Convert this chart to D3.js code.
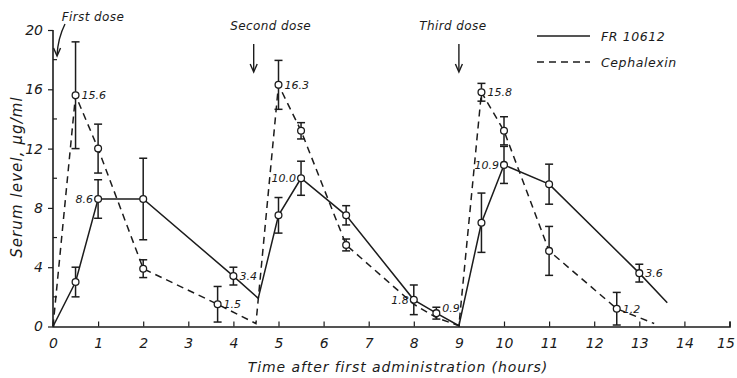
<!DOCTYPE html>
<html>
<head>
<meta charset="utf-8">
<script src="https://cdn.jsdelivr.net/npm/d3@7/dist/d3.min.js"></script>
<style>
  html, body { margin: 0; padding: 0; background: #fff; }
  svg { display: block; }
  text { font-family: "DejaVu Sans", sans-serif; font-style: italic; fill: #1a1a1a; }
</style>
</head>
<body>
<svg id="chart" width="737" height="378"></svg>
<script>
// Serum levels after three oral doses (hours after first administration)
const frTimes   = [0, 0.5, 1, 2, 4, 4.55, 5, 5.5, 6.5, 8, 8.5, 9, 9.5, 10, 11, 13, 13.62];
const frValues  = [0, 3.0, 8.6, 8.6, 3.4, 1.9, 7.5, 10.0, 7.5, 1.8, 0.9, 0.05, 7.0, 10.9, 9.6, 3.6, 1.6];
const frErrors  = [null, 1.0, 1.3, 2.75, 0.6, null, 1.2, 1.15, 0.65, 1.0, 0.4, null, 2.0, 1.25, 1.35, 0.6, null];

const cephTimes  = [0, 0.5, 1, 2, 3.65, 4.5, 5, 5.5, 6.5, 8, 8.5, 9, 9.5, 10, 11, 12.5, 13.33];
const cephValues = [0, 15.6, 12.0, 3.9, 1.5, 0.2, 16.3, 13.2, 5.5, 1.5, 0.6, 0.05, 15.8, 13.2, 5.1, 1.2, 0.2];
const cephErrors = [null, 3.6, 1.65, 0.6, 1.2, null, 1.65, 0.55, 0.4, null, null, null, 0.6, 0.95, 1.65, 1.1, null];

// Value labels: [time, value, text, side]
const frLabels   = [[1, 8.6, "8.6", "left"], [4, 3.4, "3.4", "right"], [5.5, 10.0, "10.0", "left"],
                    [8, 1.8, "1.8", "left"], [8.5, 0.9, "0.9", "above"], [10, 10.9, "10.9", "left"],
                    [13, 3.6, "3.6", "right"]];
const cephLabels = [[0.5, 15.6, "15.6", "right"], [3.65, 1.5, "1.5", "right"], [5, 16.3, "16.3", "right"],
                    [9.5, 15.8, "15.8", "right"], [12.5, 1.2, "1.2", "right"]];

const doseNames = ["First dose", "Second dose", "Third dose"];
const doseTimes = [0.09, 4.45, 9.0];

const xTicks = d3.range(0, 16, 1);
const yMajor = [0, 4, 8, 12, 16, 20];
const yMinor = [2, 6, 10, 14, 18];

const seriesNames = ["FR 10612", "Cephalexin"];

const svg = d3.select("#chart");
const ink = "#1c1c1c";

const x = d3.scaleLinear().domain([0, 15]).range([53, 729.5]);
const y = d3.scaleLinear().domain([0, 20]).range([326.5, 30]);

// X axis: ticks pointing inward
const xAxis = svg.append("g").attr("transform", `translate(0,${y(0)})`)
  .call(d3.axisBottom(x).tickValues(xTicks).tickSize(-5).tickPadding(12).tickFormat(d3.format("d")));
xAxis.select(".domain").attr("stroke", ink).attr("stroke-width", 1.6);
xAxis.selectAll(".tick line").attr("stroke", ink).attr("stroke-width", 1.2);
xAxis.selectAll(".tick text").attr("font-size", 14).attr("fill", ink)
  .style("font-family", "DejaVu Sans, sans-serif").style("font-style", "italic");
// keep the last label inside the page edge
xAxis.selectAll(".tick text").filter(d => d === 15).attr("dx", -4);

// Y axis: major ticks outward, minor ticks inward
const yAxis = svg.append("g").attr("transform", `translate(${x(0)},0)`)
  .call(d3.axisLeft(y).tickValues(yMajor).tickSize(5).tickPadding(5).tickFormat(d3.format("d")));
yAxis.select(".domain").attr("stroke", ink).attr("stroke-width", 1.6).attr("d", `M0,${y(0)}V${y(20)}`);
yAxis.selectAll(".tick line").attr("stroke", ink).attr("stroke-width", 1.2);
yAxis.selectAll(".tick text").attr("font-size", 14).attr("fill", ink)
  .style("font-family", "DejaVu Sans, sans-serif").style("font-style", "italic");
yAxis.selectAll(".minor").data(yMinor).enter().append("line")
  .attr("x1", 0).attr("x2", 4).attr("y1", d => y(d)).attr("y2", d => y(d))
  .attr("stroke", ink).attr("stroke-width", 1.2);

// Axis titles
svg.append("text").attr("x", 398).attr("y", 372).attr("text-anchor", "middle")
  .attr("font-size", 14).attr("letter-spacing", 0.9)
  .text("Time after first administration (hours)");
svg.append("text").attr("transform", "translate(22,177) rotate(-90)").attr("text-anchor", "middle")
  .attr("font-size", 15).attr("letter-spacing", 1.1)
  .text("Serum level, μg/ml");

function drawSeries(times, values, errors, dash) {
  const pts = times.map((t, i) => ({ t, v: values[i], e: errors[i] }));
  const line = d3.line().x(d => x(d.t)).y(d => y(d.v));
  svg.append("path").datum(pts).attr("d", line).attr("fill", "none")
    .attr("stroke", ink).attr("stroke-width", 1.5)
    .attr("stroke-dasharray", dash);
  const marked = pts.filter(d => d.e !== null);
  const g = svg.append("g");
  marked.forEach(d => {
    const top = y(d.v + d.e), bot = y(Math.max(d.v - d.e, -0.2)), cx = x(d.t);
    g.append("line").attr("x1", cx).attr("x2", cx).attr("y1", top).attr("y2", bot)
      .attr("stroke", ink).attr("stroke-width", 1.5);
    [top, bot].forEach(yy => g.append("line").attr("x1", cx - 4).attr("x2", cx + 4)
      .attr("y1", yy).attr("y2", yy).attr("stroke", ink).attr("stroke-width", 1.5));
  });
  g.selectAll("circle").data(marked).enter().append("circle")
    .attr("cx", d => x(d.t)).attr("cy", d => y(d.v)).attr("r", 3.4)
    .attr("fill", "#fff").attr("stroke", ink).attr("stroke-width", 1.3);
}

drawSeries(frTimes, frValues, frErrors, null);
drawSeries(cephTimes, cephValues, cephErrors, "7,5");

function drawLabels(labels) {
  svg.append("g").selectAll("text").data(labels).enter().append("text")
    .attr("x", d => x(d[0]) + (d[3] === "left" ? -5 : 6))
    .attr("y", d => y(d[1]) + (d[3] === "above" ? -1 : 4))
    .attr("text-anchor", d => d[3] === "left" ? "end" : "start")
    .attr("font-size", 11)
    .text(d => d[2]);
}
drawLabels(frLabels);
drawLabels(cephLabels);

// Dose annotations
const arrowHead = (g, px, py) => g.append("path")
  .attr("d", `M${px - 3.5},${py - 8}L${px},${py}L${px + 3.5},${py - 8}`)
  .attr("fill", "none").attr("stroke", ink).attr("stroke-width", 1.4);
const dose = svg.append("g");
// first dose: label above the axis with a leader to the arrow
dose.append("text").attr("x", 93).attr("y", 21).attr("text-anchor", "middle")
  .attr("font-size", 12).attr("letter-spacing", 0.4).text(doseNames[0]);
dose.append("path").attr("d", `M65,24 Q58,38 ${x(doseTimes[0])},55`)
  .attr("fill", "none").attr("stroke", ink).attr("stroke-width", 1.4);
arrowHead(dose, x(doseTimes[0]), 56);
[1, 2].forEach(i => {
  const ax = x(doseTimes[i]);
  dose.append("text").attr("x", i === 1 ? ax + 17 : ax - 6).attr("y", 30).attr("text-anchor", "middle")
    .attr("font-size", 12).attr("letter-spacing", 0.4).text(doseNames[i]);
  dose.append("line").attr("x1", ax).attr("x2", ax).attr("y1", 44).attr("y2", 71)
    .attr("stroke", ink).attr("stroke-width", 1.4);
  arrowHead(dose, ax, 72);
});

// Legend
const legend = svg.append("g");
[null, "7,5"].forEach((dash, i) => {
  const ly = 36 + i * 26;
  legend.append("line").attr("x1", 537).attr("x2", 590).attr("y1", ly).attr("y2", ly)
    .attr("stroke", ink).attr("stroke-width", 1.5).attr("stroke-dasharray", dash);
  legend.append("text").attr("x", 601).attr("y", ly + 5).attr("font-size", 12.5)
    .attr("letter-spacing", 0.6).text(seriesNames[i]);
});
</script>
</body>
</html>
